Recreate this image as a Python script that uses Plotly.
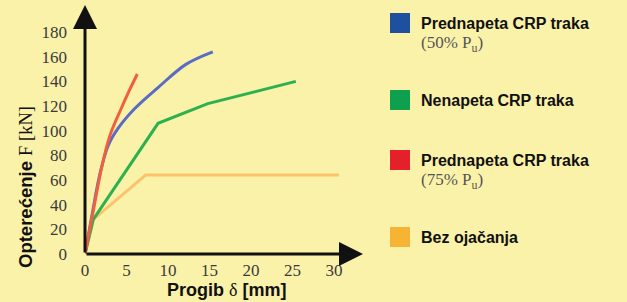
import plotly.graph_objects as go

# ---- data ----
blue_x = [0, 0.8, 1.8, 2.8, 4.0, 6.0, 8.8, 12.2, 15.4]
blue_y = [0, 30, 65, 88, 102, 118, 135, 154, 164]
red_x = [0, 1.0, 2.0, 3.0, 4.3, 5.3, 6.3]
red_y = [0, 35, 70, 96, 117, 132, 146]
green_x = [0, 1.0, 8.8, 14.8, 25.4]
green_y = [0, 28, 106, 122, 140]
orange_x = [0, 1.0, 7.3, 30.6]
orange_y = [0, 28, 64, 64]

x_ticks = [0, 5, 10, 15, 20, 25, 30]
y_ticks = [0, 20, 40, 60, 80, 100, 120, 140, 160, 180]

legend_titles = ["Prednapeta CRP traka", "Nenapeta CRP traka", "Prednapeta CRP traka", "Bez ojačanja"]
legend_subs = ["(50% P<sub>u</sub>)", "", "(75% P<sub>u</sub>)", ""]
legend_colors = ["#1f4f9f", "#0fa04f", "#e4202a", "#f7b334"]

line_colors = {"blue": "#5a6cc4", "red": "#f0603e", "green": "#2db04e", "orange": "#fbc46a"}

BG = "#fbf2aa"
W, H = 627, 302
L, T, B = 85, 5, 48
PW = 278
R = W - L - PW
PH = H - T - B

fig = go.Figure()
for xs, ys, c, shape in [(orange_x, orange_y, line_colors["orange"], "linear"),
                         (green_x, green_y, line_colors["green"], "linear"),
                         (blue_x, blue_y, line_colors["blue"], "spline"),
                         (red_x, red_y, line_colors["red"], "spline")]:
    fig.add_trace(go.Scatter(x=xs, y=ys, mode="lines", line=dict(color=c, width=3, shape=shape),
                             showlegend=False, hoverinfo="skip"))

XMAX = PW / 8.3
YMAX = PH / 1.233

fig.update_xaxes(range=[0, XMAX], tickvals=x_ticks, showgrid=False, zeroline=False,
                 showline=False, ticks="", ticklabelstandoff=4, automargin=False,
                 tickfont=dict(family="Liberation Serif", size=17, color="#3a3a3a"))
fig.update_yaxes(range=[0, YMAX], tickvals=y_ticks, showgrid=False, zeroline=False,
                 showline=False, ticks="", ticklabelstandoff=17, automargin=False,
                 tickfont=dict(family="Liberation Serif", size=17, color="#3a3a3a"))

anns = []
# axis arrows
anns.append(dict(x=0, y=YMAX, ax=0, ay=0, xref="x", yref="y", axref="x", ayref="y",
                 showarrow=True, arrowhead=2, arrowsize=1.6, arrowwidth=3, arrowcolor="#111", text=""))
anns.append(dict(x=XMAX, y=0, ax=0, ay=0, xref="x", yref="y", axref="x", ayref="y",
                 showarrow=True, arrowhead=2, arrowsize=1.6, arrowwidth=3, arrowcolor="#111", text=""))

# axis titles
anns.append(dict(xref="paper", yref="paper", x=(25 - L) / PW, y=1 - (187 - T) / PH,
                 textangle=-90, showarrow=False, xanchor="center", yanchor="middle",
                 text="<b>Opterećenje</b> <span style='font-family:Liberation Serif'>F [kN]</span>",
                 font=dict(family="Liberation Sans", size=18.5, color="#111")))
anns.append(dict(xref="paper", yref="paper", x=(227 - L) / PW, y=1 - (290 - T) / PH,
                 showarrow=False, xanchor="center", yanchor="middle",
                 text="<b>Progib</b> <span style='font-family:Liberation Serif'>δ</span> <b>[mm]</b>",
                 font=dict(family="Liberation Sans", size=18, color="#111")))

shapes = []
legend_y = [23, 100, 160, 237]
for title, sub, col, yy in zip(legend_titles, legend_subs, legend_colors, legend_y):
    shapes.append(dict(type="rect", xref="paper", yref="paper",
                       x0=(390 - L) / PW, x1=(410 - L) / PW,
                       y0=1 - (yy + 10 - T) / PH, y1=1 - (yy - 10 - T) / PH,
                       fillcolor=col, line=dict(width=0)))
    anns.append(dict(xref="paper", yref="paper", x=(419 - L) / PW, y=1 - (yy - T) / PH,
                     showarrow=False, xanchor="left", yanchor="middle", text="<b>" + title + "</b>",
                     font=dict(family="Liberation Sans", size=16, color="#111")))
    if sub:
        anns.append(dict(xref="paper", yref="paper", x=(419 - L) / PW, y=1 - (yy + 21 - T) / PH,
                         showarrow=False, xanchor="left", yanchor="middle", text=sub,
                         font=dict(family="Liberation Serif", size=17, color="#555")))

fig.update_layout(width=W, height=H, margin=dict(l=L, r=R, t=T, b=B, pad=0, autoexpand=False),
                  paper_bgcolor=BG, plot_bgcolor=BG, annotations=anns, shapes=shapes,
                  showlegend=False)

fig.write_html("out.html", config={"displayModeBar": False},
               post_script="document.body.style.margin='0';document.body.style.background='" + BG + "';")
